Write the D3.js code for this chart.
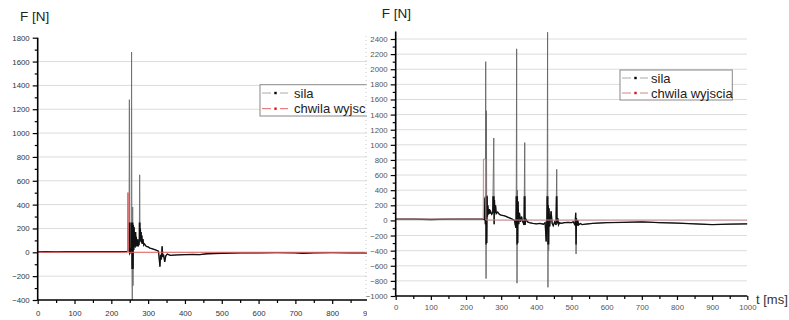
<!DOCTYPE html>
<html>
<head>
<meta charset="utf-8">
<script src="https://cdn.jsdelivr.net/npm/d3@7"></script>
<style>
  body { margin: 0; background: #fff; }
  text { font-family: "Liberation Sans", Arial, sans-serif; }
</style>
</head>
<body>
<svg id="chart" width="789" height="320"></svg>
<script>
// left panel: force (sila) and exit moment (chwila wyjscia)
const leftSilaT = [0, 20, 50, 80, 120, 160, 200, 230, 244, 246, 247, 248, 249, 250, 252, 254, 255, 256, 257, 258, 259, 260, 261, 262, 263, 264, 265, 266, 267, 268, 269, 270, 271, 272, 273, 274, 275, 276, 277, 278, 279, 280, 281, 282, 283, 284, 286, 288, 290, 295, 300, 305, 310, 320, 328, 330, 332, 334, 336, 338, 340, 342, 345, 348, 352, 360, 380, 400, 420, 440, 460, 480, 500, 550, 600, 650, 700, 720, 750, 800, 850, 900];
const leftSilaF = [3, 5, 4, 6, 5, 6, 5, 6, 8, 10, 20, 5, 1280, -10, 0, 40, 1680, -100, -400, 380, -280, 230, 20, 210, 60, 150, 40, 170, 60, 130, 50, 100, 60, 110, 50, 90, 60, 90, 650, 120, 200, 90, 170, 80, 140, 70, 110, 60, 70, 50, 45, 35, 30, 20, 10, -50, -120, -20, -60, 50, -40, -20, -80, -30, -15, -25, -22, -20, -18, -20, -12, -10, -8, -5, -4, -3, -4, -8, -4, -3, -4, -5];
const leftExitT = [0, 244, 244.5, 246, 246.5, 900];
const leftExitF = [0, 0, 500, 500, 0, 0];

// right panel
const rightSilaT = [0, 50, 100, 150, 200, 250, 252, 254, 255, 256, 257, 258, 259, 260, 261, 262, 264, 266, 268, 270, 273, 276, 279, 280, 281, 282, 284, 286, 290, 295, 300, 310, 320, 330, 338, 340, 342, 343, 344, 345, 346, 347, 348, 350, 352, 355, 358, 360, 365, 367, 368, 370, 375, 380, 390, 400, 410, 420, 425, 428, 430, 431, 432, 433, 434, 435, 436, 438, 440, 442, 445, 448, 452, 456, 458, 459, 461, 463, 466, 470, 480, 490, 500, 505, 510, 512, 513, 514, 516, 518, 520, 525, 530, 540, 560, 600, 650, 700, 750, 800, 850, 900, 950, 1000];
const rightSilaF = [18, 18, 12, 16, 18, 18, 10, 300, -50, 2100, -770, 1450, -300, 330, 50, 200, 80, 150, 90, 120, 80, 100, 1090, -50, 270, 100, 200, 90, 110, 80, 70, 60, 40, 20, 0, -60, -100, 500, 2270, -830, 400, -300, 250, -50, 100, -20, 50, 0, -60, 1030, -60, 20, -20, -30, -40, -45, -40, -50, -30, -280, 50, 560, 2490, -885, 200, -400, 160, -80, 40, 120, -40, -70, -20, -60, 676, -40, 30, -60, -30, -40, -30, -25, -30, -20, -60, 100, -444, 30, -70, 0, -60, -40, -55, -50, -40, -30, -25, -20, -30, -35, -45, -55, -50, -45];
const rightExitT = [0, 249, 249.5, 256, 256.5, 1000];
const rightExitF = [18, 18, 810, 810, 5, 5];

const leftYTicks = [-400, -200, 0, 200, 400, 600, 800, 1000, 1200, 1400, 1600, 1800];
const leftXTicks = [0, 100, 200, 300, 400, 500, 600, 700, 800, 900];
const rightYTicks = [-1000, -800, -600, -400, -200, 0, 200, 400, 600, 800, 1000, 1200, 1400, 1600, 1800, 2000, 2200, 2400];
const rightXTicks = [0, 100, 200, 300, 400, 500, 600, 700, 800, 900, 1000];
// the left legend is cut by the panel edge
const leftLegend = ["sila", "chwila wyjsc"];
const rightLegend = ["sila", "chwila wyjscia"];

const svg = d3.select("#chart");
const defs = svg.append("defs");

function zip(ts, fs) {
  return ts.map((t, i) => [t, fs[i]]);
}

function drawPanel(opt) {
  const g = svg.append("g").attr("clip-path", opt.clip ? "url(#" + opt.clip + ")" : null);
  const x = d3.scaleLinear().domain(opt.xDomain).range(opt.xRange);
  const y = d3.scaleLinear().domain(opt.yDomain).range(opt.yRange);

  // grid
  g.append("g")
    .selectAll("line")
    .data(opt.grid)
    .join("line")
    .attr("x1", opt.xRange[0])
    .attr("x2", opt.gridEnd)
    .attr("y1", (d) => y(d))
    .attr("y2", (d) => y(d))
    .attr("stroke", "#dcdcdc")
    .attr("stroke-width", 1);

  const line = d3
    .line()
    .x((d) => x(d[0]))
    .y((d) => y(d[1]));

  const sila = zip(opt.silaT, opt.silaF);
  g.append("path")
    .datum(sila)
    .attr("d", line)
    .attr("fill", "none")
    .attr("stroke", opt.silaColor)
    .attr("stroke-width", 0.9);

  // the dense low part of the trace looks black (symbols overlap)
  defs.append("clipPath")
    .attr("id", opt.id + "Band")
    .append("rect")
    .attr("x", opt.xRange[0])
    .attr("y", y(opt.band[1]))
    .attr("width", opt.xRange[1] - opt.xRange[0])
    .attr("height", y(opt.band[0]) - y(opt.band[1]));
  g.append("path")
    .datum(sila)
    .attr("clip-path", "url(#" + opt.id + "Band)")
    .attr("d", line)
    .attr("fill", "none")
    .attr("stroke", "#111")
    .attr("stroke-width", 1.3);

  g.append("path")
    .datum(zip(opt.exitT, opt.exitF))
    .attr("d", line)
    .attr("fill", "none")
    .attr("stroke", opt.exitColor)
    .attr("stroke-width", 1);

  // axes
  const yMinor = d3.range(opt.yDomain[0], opt.yDomain[1] + 1, 100).filter((v) => v % 200 !== 0);
  const xMinor = d3.range(opt.xDomain[0] + 50, opt.xDomain[1], 100);

  const ya = g.append("g").attr("transform", "translate(" + opt.xRange[0] + ",0)");
  ya.call(d3.axisLeft(y).tickValues(opt.yTicks).tickSize(5).tickSizeOuter(0).tickPadding(3).tickFormat(d3.format("d")));
  ya.append("g").call(d3.axisLeft(y).tickValues(yMinor).tickSize(3).tickFormat(""));
  ya.selectAll(".domain").remove();

  const xa = g.append("g").attr("transform", "translate(0," + opt.yRange[0] + ")");
  xa.call(d3.axisBottom(x).tickValues(opt.xTicks).tickSize(4).tickSizeOuter(0).tickPadding(opt.xPad).tickFormat(d3.format("d")));
  xa.append("g").call(d3.axisBottom(x).tickValues(xMinor).tickSize(3).tickFormat(""));
  xa.selectAll(".domain").remove();

  g.selectAll(".tick line").attr("stroke", "#000").attr("stroke-width", 1.2);
  g.selectAll(".tick text")
    .attr("fill", opt.labelColor)
    .style("font-size", opt.tickFont + "px");

  // axis lines
  g.append("line")
    .attr("x1", opt.xRange[0])
    .attr("x2", opt.xRange[0])
    .attr("y1", opt.yRange[0])
    .attr("y2", y(opt.yTop))
    .attr("stroke", "#000")
    .attr("stroke-width", 1.6);
  g.append("line")
    .attr("x1", opt.xRange[0])
    .attr("x2", x(opt.xDomain[1]))
    .attr("y1", opt.yRange[0])
    .attr("y2", opt.yRange[0])
    .attr("stroke", "#000")
    .attr("stroke-width", 1.6);

  // title
  g.append("text")
    .attr("x", opt.titleX)
    .attr("y", opt.titleY)
    .attr("fill", "#222")
    .style("font-size", "13.5px")
    .text("F [N]");

  // legend
  const lg = g.append("g").attr("transform", "translate(" + opt.legend[0] + "," + opt.legend[1] + ")");
  lg.append("rect")
    .attr("width", opt.legend[2])
    .attr("height", opt.legend[3])
    .attr("fill", "#fff")
    .attr("stroke", "#888")
    .attr("stroke-width", 1);
  const rowH = opt.legend[3] / 2;
  opt.legendLabels.forEach((lab, i) => {
    const cy = rowH * (i + 0.5) + 0.5;
    const lineCol = i === 0 ? "#aaa" : opt.exitColor;
    lg.append("line")
      .attr("x1", 2)
      .attr("x2", 11)
      .attr("y1", cy)
      .attr("y2", cy)
      .attr("stroke", lineCol)
      .attr("stroke-width", 1);
    lg.append("line")
      .attr("x1", 20)
      .attr("x2", 28)
      .attr("y1", cy)
      .attr("y2", cy)
      .attr("stroke", lineCol)
      .attr("stroke-width", 1);
    lg.append("rect")
      .attr("x", 14.3)
      .attr("y", cy - 1.2)
      .attr("width", 2.4)
      .attr("height", 2.4)
      .attr("fill", i === 0 ? "#000" : "#e01010");
    lg.append("text")
      .attr("x", opt.legendTextX)
      .attr("y", cy)
      .attr("dy", "0.36em")
      .attr("fill", "#222")
      .style("font-size", "13px")
      .text(lab);
  });

  return { g, x, y };
}

defs.append("clipPath")
  .attr("id", "leftClip")
  .append("rect")
  .attr("x", 0)
  .attr("y", 0)
  .attr("width", 367)
  .attr("height", 320);

const left = drawPanel({
  id: "left",
  clip: "leftClip",
  xDomain: [0, 900],
  xRange: [37.7, 369],
  yDomain: [-400, 1800],
  yRange: [300, 37.7],
  yTop: 1800,
  band: [-140, 250],
  grid: [-200, 0, 200, 400, 600, 800, 1000, 1200, 1400, 1600],
  gridEnd: 367,
  yTicks: leftYTicks,
  xTicks: leftXTicks,
  xPad: 6,
  tickFont: 7.8,
  labelColor: "#333",
  silaT: leftSilaT,
  silaF: leftSilaF,
  silaColor: "#6e6e6e",
  exitT: leftExitT,
  exitF: leftExitF,
  exitColor: "#e06666",
  titleX: 20,
  titleY: 21,
  legend: [260, 84.7, 140, 31.3],
  legendLabels: leftLegend,
  legendTextX: 34
});

// dotted frame on the right edge of the left panel
left.g.append("line")
  .attr("x1", 366)
  .attr("x2", 366)
  .attr("y1", 36)
  .attr("y2", 296)
  .attr("stroke", "#bbb")
  .attr("stroke-width", 0.8)
  .attr("stroke-dasharray", "1,3");

const right = drawPanel({
  id: "right",
  clip: null,
  xDomain: [0, 1000],
  xRange: [395.7, 747.3],
  yDomain: [-1000, 2400],
  yRange: [296, 39],
  yTop: 2500,
  band: [-320, 320],
  grid: [-800, -600, -400, -200, 0, 200, 400, 600, 800, 1000, 1200, 1400, 1600, 1800, 2000, 2200, 2400],
  gridEnd: 747,
  yTicks: rightYTicks,
  xTicks: rightXTicks,
  xPad: 4,
  tickFont: 7.8,
  labelColor: "#555",
  silaT: rightSilaT,
  silaF: rightSilaF,
  silaColor: "#666",
  exitT: rightExitT,
  exitF: rightExitF,
  exitColor: "#c88a8a",
  titleX: 381.7,
  titleY: 18,
  legend: [620, 70, 112.3, 30],
  legendLabels: rightLegend,
  legendTextX: 31
});

right.g.append("text")
  .attr("x", 756)
  .attr("y", 304)
  .attr("fill", "#333")
  .style("font-size", "13px")
  .text("t [ms]");
</script>
</body>
</html>
